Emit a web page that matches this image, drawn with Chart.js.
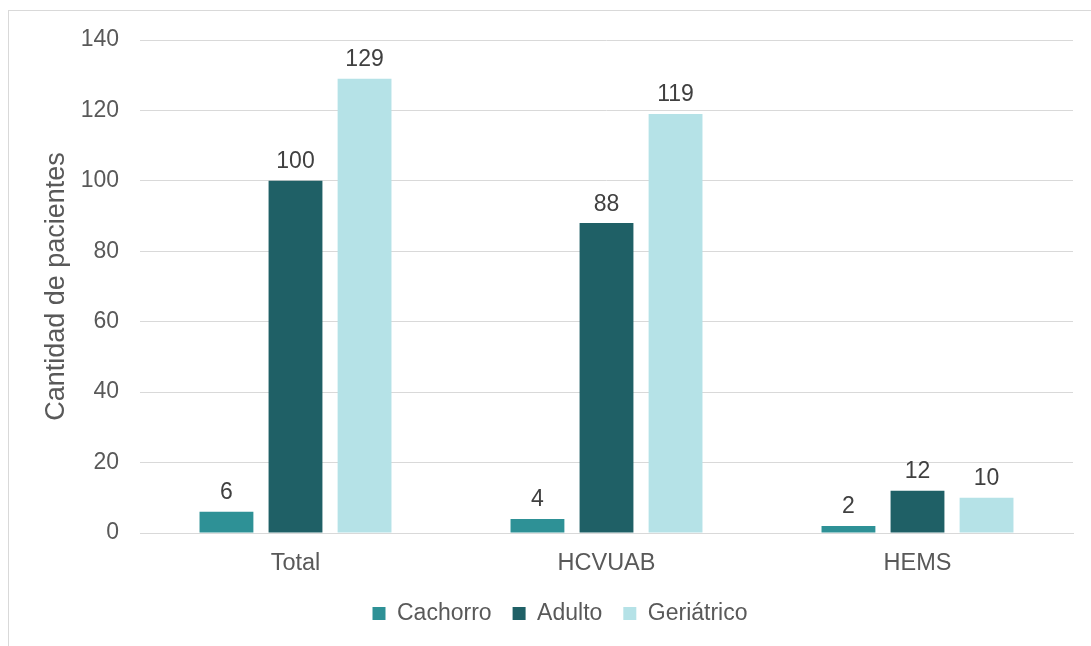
<!DOCTYPE html>
<html>
<head>
<meta charset="utf-8">
<script src="https://cdn.jsdelivr.net/npm/chart.js@4"></script>
<style>
html,body{margin:0;padding:0;background:#fff;width:1091px;height:646px;overflow:hidden;}
#frame{position:absolute;left:8px;top:10px;width:1200px;height:700px;border-left:1px solid #d9d9d9;border-top:1px solid #d9d9d9;}
#wrap{position:absolute;left:9px;top:11px;width:1082px;height:635px;}
</style>
</head>
<body>
<div id="frame"></div>
<div id="wrap"><canvas id="c"></canvas></div>
<script>
const categories = ["Total", "HCVUAB", "HEMS"];
const seriesNames = ["Cachorro", "Adulto", "Geriátrico"];
const cachorro = [6, 4, 2];
const adulto = [100, 88, 12];
const geriatrico = [129, 119, 10];
const yTicks = [0, 20, 40, 60, 80, 100, 120, 140];
const yTitle = "Cantidad de pacientes";

const FONT = "'Liberation Sans', Arial, sans-serif";

const dataLabels = {
  id: 'dataLabels',
  afterDatasetsDraw(chart) {
    const ctx = chart.ctx;
    ctx.save();
    ctx.font = "23px " + FONT;
    ctx.fillStyle = "#404040";
    ctx.textAlign = "center";
    ctx.textBaseline = "alphabetic";
    chart.data.datasets.forEach((ds, i) => {
      const meta = chart.getDatasetMeta(i);
      meta.data.forEach((bar, j) => {
        ctx.fillText(String(ds.data[j]), bar.x, bar.y - 12.5);
      });
    });
    ctx.restore();
  }
};

new Chart(document.getElementById('c'), {
  type: 'bar',
  data: {
    labels: categories,
    datasets: [
      { label: seriesNames[0], data: cachorro, backgroundColor: '#2E9196' },
      { label: seriesNames[1], data: adulto, backgroundColor: '#1F6066' },
      { label: seriesNames[2], data: geriatrico, backgroundColor: '#B5E2E7' }
    ]
  },
  options: {
    responsive: true,
    maintainAspectRatio: false,
    animation: false,
    datasets: { bar: { categoryPercentage: 0.666, barPercentage: 0.78 } },
    layout: { padding: { left: 38, right: 18, top: 29, bottom: 11 } },
    plugins: {
      legend: {
        position: 'bottom',
        labels: {
          boxWidth: 13, boxHeight: 13, padding: 21,
          color: '#595959',
          font: { family: FONT, size: 23 }
        }
      },
      tooltip: { enabled: false }
    },
    scales: {
      x: {
        grid: { display: false, drawTicks: false },
        border: { display: true, color: '#d9d9d9', width: 1 },
        ticks: { color: '#595959', font: { family: FONT, size: 23.5 }, padding: 16, maxRotation: 0 },
        afterFit(scale) { scale.height = 48; scale.paddingLeft = 0; scale.paddingRight = 0; }
      },
      y: {
        min: 0, max: 140,
        afterBuildTicks(scale) { scale.ticks = yTicks.map(v => ({ value: v })); },
        grid: { color: '#d9d9d9', lineWidth: 1, drawTicks: false },
        border: { display: false },
        ticks: { color: '#595959', font: { family: FONT, size: 23 }, padding: 21 },
        title: {
          display: true, text: yTitle, color: '#595959',
          font: { family: FONT, size: 27 },
          padding: { top: -6.2, bottom: 0 }
        },
        afterFit(scale) { scale.width = 93; scale.paddingTop = 0; scale.paddingBottom = 0; }
      }
    }
  },
  plugins: [dataLabels]
});
</script>
</body>
</html>
